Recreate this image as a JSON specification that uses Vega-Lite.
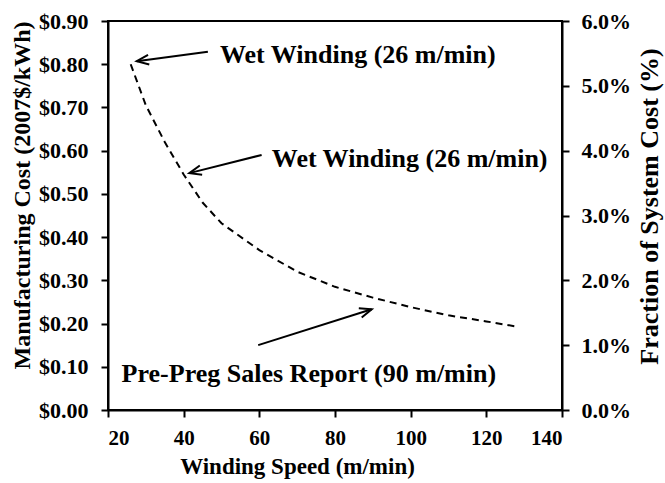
{
  "$schema": "https://vega.github.io/schema/vega-lite/v6.json",
  "width": 454,
  "height": 389,
  "autosize": {"type": "none"},
  "padding": {"left": 108, "top": 21, "right": 103, "bottom": 73},
  "background": "white",
  "config": {
    "view": {"stroke": "black", "strokeWidth": 2},
    "font": "Liberation Serif",
    "axis": {
      "grid": false,
      "domainColor": "black",
      "domainWidth": 2,
      "tickColor": "black",
      "tickWidth": 2,
      "tickSize": 7,
      "labelFont": "Liberation Serif",
      "labelFontWeight": "bold",
      "labelFontSize": 21,
      "labelColor": "black",
      "labelPadding": 10,
      "titleFont": "Liberation Serif",
      "titleFontWeight": "bold",
      "titleFontSize": 22,
      "titleColor": "black"
    }
  },
  "datasets": {
    "curve": [
      {"speed": 26, "cost": 0.80},
      {"speed": 30, "cost": 0.705},
      {"speed": 35, "cost": 0.62},
      {"speed": 40, "cost": 0.545},
      {"speed": 45, "cost": 0.48},
      {"speed": 50, "cost": 0.432},
      {"speed": 60, "cost": 0.37},
      {"speed": 70, "cost": 0.32},
      {"speed": 80, "cost": 0.285},
      {"speed": 90, "cost": 0.26},
      {"speed": 100, "cost": 0.238},
      {"speed": 110, "cost": 0.219},
      {"speed": 120, "cost": 0.205},
      {"speed": 128, "cost": 0.193}
    ],
    "labels": [
      {"text": "Wet Winding (26 m/min)", "speed": 49.6, "cost": 0.803},
      {"text": "Wet Winding (26 m/min)", "speed": 63.3, "cost": 0.563},
      {"text": "Pre-Preg Sales Report (90 m/min)", "speed": 23.6, "cost": 0.0655}
    ],
    "arrows": [
      {"id": 1, "fromSpeed": 46.4, "fromCost": 0.829, "toSpeed": 27.6, "toCost": 0.807},
      {"id": 2, "fromSpeed": 60.6, "fromCost": 0.590, "toSpeed": 41.5, "toCost": 0.548},
      {"id": 3, "fromSpeed": 59.7, "fromCost": 0.150, "toSpeed": 89.7, "toCost": 0.233}
    ],
    "fraction": [{"fraction": 0}, {"fraction": 0.06}]
  },
  "layer": [
    {
      "layer": [
        {
          "data": {"name": "curve"},
          "mark": {"type": "line", "color": "black", "strokeWidth": 2, "strokeDash": [7, 5]},
          "encoding": {
            "x": {"field": "speed", "type": "quantitative", "scale": {"domain": [20, 140], "nice": false},
              "axis": {"values": [20, 40, 60, 80, 100, 120, 140], "title": "Winding Speed (m/min)", "titleFontSize": 23, "titleX": 189, "titleY": 63, "titleBaseline": "alphabetic", "titleAnchor": "middle", "titleAlign": "center"}},
            "y": {"field": "cost", "type": "quantitative", "scale": {"domain": [0, 0.9], "nice": false},
              "axis": {"values": [0, 0.1, 0.2, 0.3, 0.4, 0.5, 0.6, 0.7, 0.8, 0.9], "format": "$.2f", "labelFontSize": 22, "labelPadding": 13, "title": "Manufacturing Cost (2007$/kWh)", "titleFontSize": 24, "titleX": -79, "titleY": 174, "titleBaseline": "alphabetic", "titleAlign": "center", "titleAngle": 270}}
          }
        },
        {
          "data": {"name": "arrows"},
          "mark": {"type": "rule", "color": "black", "strokeWidth": 2},
          "encoding": {
            "x": {"field": "fromSpeed", "type": "quantitative"},
            "y": {"field": "fromCost", "type": "quantitative"},
            "x2": {"field": "toSpeed"},
            "y2": {"field": "toCost"}
          }
        },
        {
          "data": {"name": "arrows"},
          "transform": [{"filter": "datum.id == 1"}],
          "mark": {"type": "point", "shape": "M2,-0.8L0,0L2,0.8", "filled": false, "stroke": "black", "strokeWidth": 2, "size": 144, "angle": 352.6, "opacity": 1},
          "encoding": {
            "x": {"field": "toSpeed", "type": "quantitative"},
            "y": {"field": "toCost", "type": "quantitative"}
          }
        },
        {
          "data": {"name": "arrows"},
          "transform": [{"filter": "datum.id == 2"}],
          "mark": {"type": "point", "shape": "M2,-0.8L0,0L2,0.8", "filled": false, "stroke": "black", "strokeWidth": 2, "size": 144, "angle": 345.8, "opacity": 1},
          "encoding": {
            "x": {"field": "toSpeed", "type": "quantitative"},
            "y": {"field": "toCost", "type": "quantitative"}
          }
        },
        {
          "data": {"name": "arrows"},
          "transform": [{"filter": "datum.id == 3"}],
          "mark": {"type": "point", "shape": "M2,-0.8L0,0L2,0.8", "filled": false, "stroke": "black", "strokeWidth": 2, "size": 144, "angle": 162.5, "opacity": 1},
          "encoding": {
            "x": {"field": "toSpeed", "type": "quantitative"},
            "y": {"field": "toCost", "type": "quantitative"}
          }
        },
        {
          "data": {"name": "labels"},
          "mark": {"type": "text", "align": "left", "baseline": "alphabetic", "font": "Liberation Serif", "fontWeight": "bold", "fontSize": 26, "color": "black"},
          "encoding": {
            "x": {"field": "speed", "type": "quantitative"},
            "y": {"field": "cost", "type": "quantitative"},
            "text": {"field": "text"}
          }
        }
      ]
    },
    {
      "data": {"name": "fraction"},
      "mark": {"type": "rule", "opacity": 0},
      "encoding": {
        "y": {"field": "fraction", "type": "quantitative", "scale": {"domain": [0, 0.06], "nice": false},
          "axis": {"orient": "right", "values": [0, 0.01, 0.02, 0.03, 0.04, 0.05, 0.06], "format": ".1%", "labelFontSize": 22, "labelPadding": 12, "title": "Fraction of System Cost (%)", "titleFontSize": 26, "titleX": 95, "titleY": 185, "titleBaseline": "alphabetic", "titleAlign": "center", "titleAngle": 270}}
      }
    }
  ],
  "resolve": {"scale": {"y": "independent"}}
}
